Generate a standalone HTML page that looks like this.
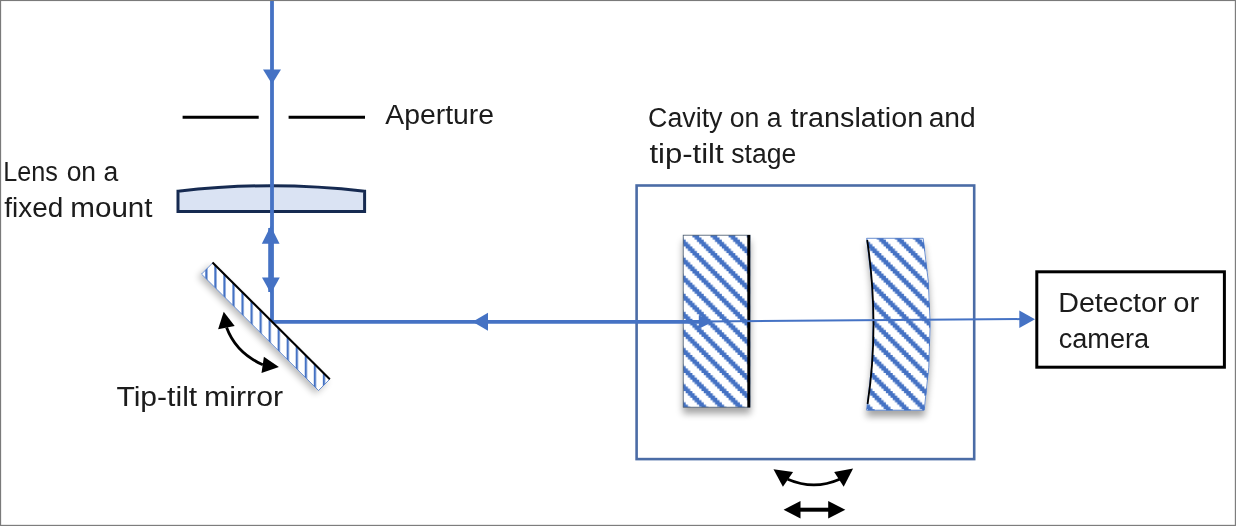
<!DOCTYPE html>
<html lang="en"><head><meta charset="utf-8">
<title>Cavity alignment setup</title>
<style>
html,body{margin:0;padding:0;background:#fff;}
body{width:1236px;height:526px;overflow:hidden;}
svg{display:block;}
text{font-family:"Liberation Sans",sans-serif;font-size:27px;fill:#1a1a1a;}
</style></head><body>
<svg width="1236" height="526" viewBox="0 0 1236 526">
<defs>
<pattern id="diagF" patternUnits="userSpaceOnUse" width="8" height="8" patternTransform="translate(5.4 0) scale(2.26)">
<rect width="8" height="8" fill="#fff"/>
<path fill="#4472C4" d="M-8,0h3.0v1h-3.0zM0,0h3.0v1h-3.0zM-7,1h3.0v1h-3.0zM1,1h3.0v1h-3.0zM-6,2h3.0v1h-3.0zM2,2h3.0v1h-3.0zM-5,3h3.0v1h-3.0zM3,3h3.0v1h-3.0zM-4,4h3.0v1h-3.0zM4,4h3.0v1h-3.0zM-3,5h3.0v1h-3.0zM5,5h3.0v1h-3.0zM-2,6h3.0v1h-3.0zM6,6h3.0v1h-3.0zM-1,7h3.0v1h-3.0zM7,7h3.0v1h-3.0z"/>
</pattern>
<pattern id="diagC" patternUnits="userSpaceOnUse" width="8" height="8" patternTransform="translate(6.8 0) scale(2.26)">
<rect width="8" height="8" fill="#fff"/>
<path fill="#4472C4" d="M-8,0h3.0v1h-3.0zM0,0h3.0v1h-3.0zM-7,1h3.0v1h-3.0zM1,1h3.0v1h-3.0zM-6,2h3.0v1h-3.0zM2,2h3.0v1h-3.0zM-5,3h3.0v1h-3.0zM3,3h3.0v1h-3.0zM-4,4h3.0v1h-3.0zM4,4h3.0v1h-3.0zM-3,5h3.0v1h-3.0zM5,5h3.0v1h-3.0zM-2,6h3.0v1h-3.0zM6,6h3.0v1h-3.0zM-1,7h3.0v1h-3.0zM7,7h3.0v1h-3.0z"/>
</pattern>
<pattern id="vert" patternUnits="userSpaceOnUse" width="4" height="4" patternTransform="translate(6.4 0) scale(2.26)">
<rect width="4" height="4" fill="#fff"/>
<rect x="0" y="0" width="1" height="4" fill="#4472C4"/>
</pattern>
<filter id="shB" x="-40%" y="-15%" width="180%" height="135%">
<feGaussianBlur in="SourceAlpha" stdDeviation="3.8"/><feOffset dx="0" dy="6" result="o"/>
<feComponentTransfer><feFuncA type="linear" slope="0.36"/></feComponentTransfer>
<feMerge><feMergeNode/><feMergeNode in="SourceGraphic"/></feMerge></filter>
<filter id="shD" x="-30%" y="-30%" width="160%" height="160%">
<feGaussianBlur in="SourceAlpha" stdDeviation="3.6"/><feOffset dx="-3.2" dy="3.2" result="o"/>
<feComponentTransfer><feFuncA type="linear" slope="0.27"/></feComponentTransfer>
<feMerge><feMergeNode/><feMergeNode in="SourceGraphic"/></feMerge></filter>
<filter id="soft" filterUnits="userSpaceOnUse" x="0" y="0" width="1236" height="526"><feGaussianBlur stdDeviation="0.42"/></filter>
</defs>
<rect x="0" y="0" width="1236" height="526" fill="#fff"/>
<g filter="url(#soft)">
<g stroke="#000" stroke-width="3" fill="none">
<line x1="182.6" y1="117.3" x2="258.7" y2="117.3"/>
<line x1="288.6" y1="117.3" x2="365" y2="117.3"/>
</g>
<path d="M178,211.4 L178,191.2 Q271.3,180.2 364.6,191.2 L364.6,211.4 Z" fill="#DAE3F3" stroke="#172C51" stroke-width="3" stroke-linejoin="miter"/>
<rect x="636.6" y="185.5" width="337.6" height="273.6" fill="none" stroke="#4b6ca6" stroke-width="2.6"/>
<g filter="url(#shB)">
<rect x="683.2" y="235.2" width="66.9" height="172" fill="url(#diagF)" stroke="#44546A" stroke-width="0.8"/>
</g>
<line x1="748.7" y1="235" x2="748.7" y2="407.4" stroke="#000" stroke-width="2.8"/>
<g filter="url(#shB)">
<path d="M866.6,238.3 L923.2,238.3 Q936.6,324.2 924.2,410.2 L866.6,410.2 Q879.8,324.2 866.6,238.3 Z" fill="url(#diagC)" stroke="#4472C4" stroke-width="0.8"/>
</g>
<path d="M867.2,240 Q879.6,324.2 867.6,404" fill="none" stroke="#000" stroke-width="1.8"/>
<g stroke="#4472C4" fill="none">
<line x1="272" y1="0" x2="272" y2="323.4" stroke-width="3.8"/>
<line x1="270" y1="228" x2="270" y2="292" stroke-width="3.6"/>
<line x1="270.3" y1="321.8" x2="700" y2="321.8" stroke-width="3.8"/>
<line x1="700" y1="321.5" x2="1022" y2="319.1" stroke-width="2"/>
</g>
<g fill="#4472C4">
<polygon points="263,69.4 281,69.4 272,84"/>
<polygon points="261.8,243.8 279.6,243.8 270.7,226"/>
<polygon points="262,277.4 279.8,277.4 270.9,293.5"/>
<polygon points="488,312.8 488,330.8 472.6,321.8"/>
<polygon points="698.8,315.2 698.8,328.8 712.5,322.0"/>
<polygon points="1019.3,310.5 1019.3,328.0 1035,319.2"/>
</g>
<g filter="url(#shD)">
<polygon points="212.8,262.8 329.8,379.2 318.5,390.5 201.5,274.1" fill="url(#vert)" stroke="#4472C4" stroke-width="0.8"/>
</g>
<line x1="212.5" y1="262.5" x2="329.8" y2="379.2" stroke="#000" stroke-width="2.1"/>
<rect x="1036.8" y="271.8" width="187.6" height="95.4" fill="#fff" stroke="#000" stroke-width="3"/>
<g fill="#000" stroke="none">
<polygon points="223.7,311.8 218.1,329.2 234.7,326"/>
<polygon points="278.9,367 263.9,356.8 261.5,372.9"/>
<polygon points="773.5,469.2 793.1,471.9 782.9,486.7"/>
<polygon points="853.1,468.5 834.2,471.9 843.7,486.7"/>
<polygon points="783.6,509.7 800.5,500.9 800.5,518.4"/>
<polygon points="845.3,509.7 828.2,500.9 828.2,518.4"/>
</g>
<g fill="none" stroke="#000">
<path d="M226.6,327.6 Q236,353 262.8,364.8" stroke-width="2.8"/>
<path d="M787.7,479.3 Q814,490.6 839.6,479.3" stroke-width="2.8"/>
<line x1="799" y1="509.7" x2="830" y2="509.7" stroke-width="4"/>
</g>
<g opacity="0.999">
<text y="124.00"><tspan x="385.30" textLength="108.77" lengthAdjust="spacingAndGlyphs">Aperture</tspan></text>
<text y="181.20"><tspan x="3.29" textLength="54.60" lengthAdjust="spacingAndGlyphs">Lens</tspan> <tspan x="66.64" textLength="51.56" lengthAdjust="spacingAndGlyphs">on a</tspan></text>
<text y="216.90"><tspan x="4.32" textLength="58.99" lengthAdjust="spacingAndGlyphs">fixed</tspan> <tspan x="70.28" textLength="82.31" lengthAdjust="spacingAndGlyphs">mount</tspan></text>
<text y="406.40"><tspan x="116.40" textLength="80.79" lengthAdjust="spacingAndGlyphs">Tip-tilt</tspan> <tspan x="204.03" textLength="79.17" lengthAdjust="spacingAndGlyphs">mirror</tspan></text>
<text y="127.30"><tspan x="648.06" textLength="74.44" lengthAdjust="spacingAndGlyphs">Cavity</tspan> <tspan x="729.73" textLength="51.86" lengthAdjust="spacingAndGlyphs">on a</tspan> <tspan x="790.57" textLength="132.59" lengthAdjust="spacingAndGlyphs">translation</tspan> <tspan x="928.67" textLength="47.05" lengthAdjust="spacingAndGlyphs">and</tspan></text>
<text y="162.70"><tspan x="649.43" textLength="74.25" lengthAdjust="spacingAndGlyphs">tip-tilt</tspan> <tspan x="731.34" textLength="64.96" lengthAdjust="spacingAndGlyphs">stage</tspan></text>
<text y="311.90"><tspan x="1058.21" textLength="108.37" lengthAdjust="spacingAndGlyphs">Detector</tspan> <tspan x="1173.33" textLength="25.95" lengthAdjust="spacingAndGlyphs">or</tspan></text>
<text y="348.00"><tspan x="1058.72" textLength="90.38" lengthAdjust="spacingAndGlyphs">camera</tspan></text>
</g>
</g>
<rect x="0.55" y="0.5" width="1234.85" height="524.9" fill="none" stroke="#7a7a7a" stroke-width="1.15"/>
</svg>
</body></html>
